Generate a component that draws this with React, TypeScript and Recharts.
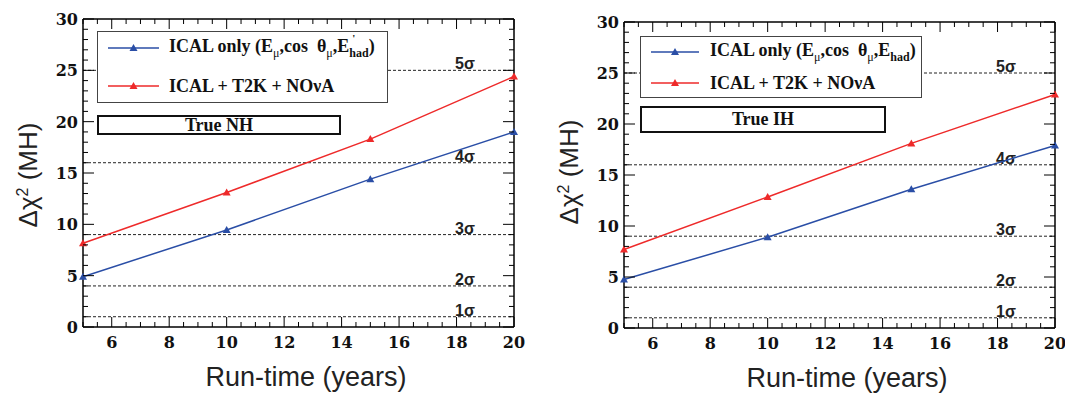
import React from 'react';
import { LineChart, Line, XAxis, YAxis, ReferenceLine } from 'recharts';

const runYears = [5, 10, 15, 20];
const nhIcalOnly = [4.9, 9.45, 14.4, 19.0];
const nhCombined = [8.15, 13.1, 18.3, 24.4];
const ihIcalOnly = [4.75, 8.9, 13.6, 17.9];
const ihCombined = [7.7, 12.85, 18.1, 22.9];
const sigmaLevels = [1, 4, 9, 16, 25];
const sigmaNames = ['1σ', '2σ', '3σ', '4σ', '5σ'];
const xMajorTicks = [6, 8, 10, 12, 14, 16, 18, 20];
const yMajorTicks = [0, 5, 10, 15, 20, 25, 30];
const xAllTicks = Array.from({ length: 31 }, (_, i) => 5 + i * 0.5);
const yAllTicks = Array.from({ length: 31 }, (_, i) => i);

const BLUE = '#2a4ea6';
const RED = '#ee2a2a';
const SERIF = '"Liberation Serif", "Times New Roman", serif';
const SANS = '"Liberation Sans", Arial, sans-serif';
const TICK_FONT = 'DejaVu Serif';

type Geo = {
  left: number;
  width: number;
  plotLeft: number;
  plotRight: number;
  plotTop: number;
  plotBottom: number;
  legend: { x1: number; x2: number; y1: number; y2: number; lineX1: number; lineX2: number; textX: number; row1: number; row2: number };
  trueBox: { x1: number; x2: number; y1: number; y2: number };
  yTitle: { x: number; y: number };
  xTitle: { x: number; y: number };
};

// ROOT-style ticks: drawn inward, mirrored on the opposite side
function XTick(props: any) {
  const { x, y, payload, plotH } = props;
  const v = payload.value;
  const major = xMajorTicks.includes(v);
  const len = major ? 10 : 5;
  return (
    <g>
      <line x1={x} x2={x} y1={y} y2={y - len} stroke="#000" strokeWidth={1} />
      <line x1={x} x2={x} y1={y - plotH} y2={y - plotH + len} stroke="#000" strokeWidth={1} />
      {major && (
        <text x={x} y={y + 21} textAnchor="middle" style={{ fontFamily: TICK_FONT, fontWeight: 700, fontSize: 16 }} fill="#111">
          {v}
        </text>
      )}
    </g>
  );
}

function YTick(props: any) {
  const { x, y, payload, plotW } = props;
  const v = payload.value;
  const major = yMajorTicks.includes(v);
  const len = major ? 11 : 5;
  return (
    <g>
      <line x1={x} x2={x + len} y1={y} y2={y} stroke="#000" strokeWidth={1} />
      <line x1={x + plotW} x2={x + plotW - len} y1={y} y2={y} stroke="#000" strokeWidth={1} />
      {major && (
        <text x={x - 5} y={y + 6} textAnchor="end" style={{ fontFamily: TICK_FONT, fontWeight: 700, fontSize: 16 }} fill="#111">
          {v}
        </text>
      )}
    </g>
  );
}

const triangle = (color: string) => (props: any) => {
  const { cx, cy, index } = props;
  return <path key={`t${index}`} d={`M${cx},${cy - 4} L${cx + 4},${cy + 3} L${cx - 4},${cy + 3} Z`} fill={color} />;
};

const LegendLine = ({ x1, x2, y, color }: { x1: number; x2: number; y: number; color: string }) => {
  const w = x2 - x1;
  return (
    <svg style={{ position: 'absolute', left: x1, top: y - 6, width: w, height: 12, overflow: 'visible' }}>
      <line x1={0} x2={w} y1={6} y2={6} stroke={color} strokeWidth={1.5} />
      <path d={`M${w / 2},${2} L${w / 2 + 4},${9} L${w / 2 - 4},${9} Z`} fill={color} />
    </svg>
  );
};

function Panel({ geo, icalOnly, combined, trueLabel, prime }: { geo: Geo; icalOnly: number[]; combined: number[]; trueLabel: string; prime: boolean }) {
  const data = runYears.map((yr, i) => ({ year: yr, ical: icalOnly[i], combo: combined[i] }));
  const plotW = geo.plotRight - geo.plotLeft;
  const plotH = geo.plotBottom - geo.plotTop;
  const xAxisH = 40;
  const yAxisW = 40;
  const labelX = geo.plotLeft + ((17.95 - 5) / 15) * plotW;
  const lg = geo.legend;
  const tb = geo.trueBox;
  const legendText: React.CSSProperties = {
    position: 'absolute',
    left: lg.textX - geo.left,
    transform: 'translateY(-50%)',
    fontFamily: SERIF,
    fontWeight: 'bold',
    fontSize: 18,
    lineHeight: 1,
    whiteSpace: 'nowrap',
    color: '#111',
  };
  return (
    <div style={{ position: 'absolute', left: geo.left, top: 0, width: geo.width, height: 395 }}>
      <LineChart
        width={geo.width}
        height={395}
        data={data}
        margin={{ top: geo.plotTop, right: geo.width - geo.plotRight, bottom: 395 - geo.plotBottom - xAxisH, left: geo.plotLeft - yAxisW }}
      >
        <XAxis
          dataKey="year"
          type="number"
          domain={[5, 20]}
          ticks={xAllTicks}
          interval={0}
          height={xAxisH}
          tickSize={0}
          tickMargin={0}
          tickLine={false}
          axisLine={{ stroke: '#000', strokeWidth: 1.5 }}
          tick={<XTick plotH={plotH} />}
        />
        <YAxis
          type="number"
          domain={[0, 30]}
          ticks={yAllTicks}
          interval={0}
          width={yAxisW}
          tickSize={0}
          tickMargin={0}
          tickLine={false}
          axisLine={{ stroke: '#000', strokeWidth: 1.5 }}
          tick={<YTick plotW={plotW} />}
        />
        <ReferenceLine y={30} stroke="#000" strokeWidth={1.5} />
        <ReferenceLine x={20} stroke="#000" strokeWidth={1.5} />
        {sigmaLevels.map((lvl, i) => (
          <ReferenceLine
            key={lvl}
            y={lvl}
            stroke="#222"
            strokeWidth={1}
            strokeDasharray="3 2"
            label={(p: any) => (
              <text x={labelX} y={(p.viewBox?.y ?? 0) - 1} style={{ fontFamily: SANS, fontWeight: 700, fontSize: 16 }} fill="#222">
                {sigmaNames[i]}
              </text>
            )}
          />
        ))}
        <Line dataKey="ical" stroke={BLUE} strokeWidth={1.5} dot={triangle(BLUE)} isAnimationActive={false} />
        <Line dataKey="combo" stroke={RED} strokeWidth={1.5} dot={triangle(RED)} isAnimationActive={false} />
      </LineChart>

      <div
        style={{
          position: 'absolute',
          left: lg.x1 - geo.left,
          top: lg.y1,
          width: lg.x2 - lg.x1,
          height: lg.y2 - lg.y1,
          border: '1.5px solid #444',
          background: '#fff',
          boxSizing: 'border-box',
        }}
      />
      <LegendLine x1={lg.lineX1 - geo.left} x2={lg.lineX2 - geo.left} y={lg.row1} color={BLUE} />
      <LegendLine x1={lg.lineX1 - geo.left} x2={lg.lineX2 - geo.left} y={lg.row2} color={RED} />
      <div style={{ ...legendText, top: lg.row1 }}>
        ICAL only (E<sub style={{ fontSize: 12, fontWeight: 'normal' }}>μ</sub>,cos&nbsp;&nbsp;θ<sub style={{ fontSize: 12, fontWeight: 'normal' }}>μ</sub>,E
        <span style={{ position: 'relative' }}>
          {prime && <span style={{ position: 'absolute', left: 3, top: -3, fontSize: 11, lineHeight: 1 }}>'</span>}
          <sub style={{ fontSize: 12 }}>had</sub>
        </span>
        )
      </div>
      <div style={{ ...legendText, top: lg.row2 }}>ICAL + T2K + NOνA</div>

      <div
        style={{
          position: 'absolute',
          left: tb.x1 - geo.left,
          top: tb.y1,
          width: tb.x2 - tb.x1,
          height: tb.y2 - tb.y1,
          border: '2px solid #111',
          background: '#fff',
          boxSizing: 'border-box',
          display: 'flex',
          alignItems: 'center',
          justifyContent: 'center',
          fontFamily: SERIF,
          fontWeight: 'bold',
          fontSize: 18,
          color: '#111',
        }}
      >
        {trueLabel}
      </div>

      <div
        style={{ position: 'absolute', left: geo.yTitle.x - geo.left, top: geo.yTitle.y, transform: 'translate(-50%, -50%) rotate(-90deg)', fontFamily: SANS, fontSize: 26, lineHeight: 1, whiteSpace: 'nowrap', color: '#222' }}
      >
        Δχ<sup style={{ fontSize: 16 }}>2</sup> (MH)
      </div>
      <div
        style={{ position: 'absolute', left: geo.xTitle.x - geo.left, top: geo.xTitle.y, transform: 'translateX(-50%)', fontFamily: SANS, fontSize: 27, lineHeight: 1, whiteSpace: 'nowrap', color: '#222' }}
      >
        Run-time (years)
      </div>
    </div>
  );
}

const leftGeo: Geo = {
  left: 0,
  width: 540,
  plotLeft: 83,
  plotRight: 514,
  plotTop: 19,
  plotBottom: 327,
  legend: { x1: 97, x2: 388, y1: 31, y2: 103, lineX1: 108, lineX2: 159, textX: 169, row1: 48, row2: 86 },
  trueBox: { x1: 97, x2: 341, y1: 115, y2: 135 },
  yTitle: { x: 28, y: 175 },
  xTitle: { x: 306, y: 364 },
};

const rightGeo: Geo = {
  left: 540,
  width: 525,
  plotLeft: 84,
  plotRight: 515,
  plotTop: 22,
  plotBottom: 328,
  legend: { x1: 640, x2: 922, y1: 36, y2: 98, lineX1: 651, lineX2: 699, textX: 710, row1: 52, row2: 83 },
  trueBox: { x1: 640, x2: 886, y1: 106, y2: 133 },
  yTitle: { x: 569, y: 172 },
  xTitle: { x: 847, y: 365 },
};

export default function App() {
  return (
    <div style={{ position: 'absolute', left: 0, top: 0, width: 1065, height: 395, background: '#fff', overflow: 'hidden' }}>
      <Panel geo={leftGeo} icalOnly={nhIcalOnly} combined={nhCombined} trueLabel="True NH" prime={true} />
      <Panel geo={rightGeo} icalOnly={ihIcalOnly} combined={ihCombined} trueLabel="True IH" prime={false} />
    </div>
  );
}
